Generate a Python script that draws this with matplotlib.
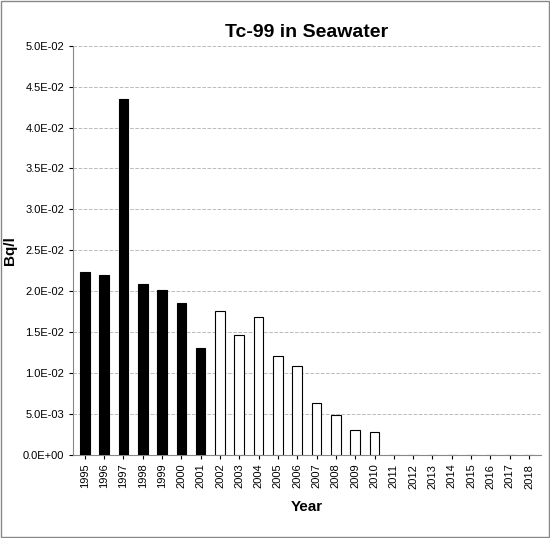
import matplotlib
matplotlib.use("Agg")
import matplotlib.pyplot as plt
from matplotlib.ticker import FuncFormatter

plt.rcParams['font.family'] = ['Liberation Sans', 'DejaVu Sans']

years = list(range(1995, 2019))
values = [0.0223, 0.0220, 0.0435, 0.0209, 0.0201, 0.0186, 0.0130,
          0.0176, 0.0146, 0.0168, 0.0121, 0.0108, 0.0063, 0.0048, 0.0030, 0.0028,
          0, 0, 0, 0, 0, 0, 0, 0]
filled_until = 2001

fig = plt.figure(figsize=(5.5, 5.38), dpi=100)
ax = fig.add_axes([0.133, 0.155, 0.85, 0.76])

x = range(len(years))
colors = ["black" if y <= filled_until else "white" for y in years]
ax.bar(x, values, width=0.5, color=colors, edgecolor="black", linewidth=0.8, zorder=3)

ax.set_ylim(0, 0.05)
ax.set_yticks([i * 0.005 for i in range(11)])
ax.yaxis.set_major_formatter(FuncFormatter(lambda v, p: f"{v:.1E}"))
ax.set_xlim(-0.6, len(years) - 0.4)
ax.set_xticks(list(x))
ax.set_xticklabels([str(y) for y in years], rotation=90, fontsize=8)
ax.tick_params(axis="y", labelsize=8, length=3)
ax.tick_params(axis="x", length=3)
ax.grid(axis="y", color="#bbbbbb", linestyle="--", linewidth=0.7, zorder=0)
for s in ["top", "right"]:
    ax.spines[s].set_visible(False)
ax.spines["left"].set_color("#888888")
ax.spines["bottom"].set_color("#888888")

ax.set_title("Tc-99 in Seawater", fontsize=14, fontweight="bold", pad=6)
ax.set_ylabel("Bq/l", fontsize=11, fontweight="bold")
ax.set_xlabel("Year", fontsize=11, fontweight="bold", labelpad=8)

fig.patches.append(plt.Rectangle((0.002, 0.002), 0.996, 0.996, transform=fig.transFigure,
                                 fill=False, edgecolor="#888888", linewidth=1))

fig.savefig("out.png", dpi=100)
